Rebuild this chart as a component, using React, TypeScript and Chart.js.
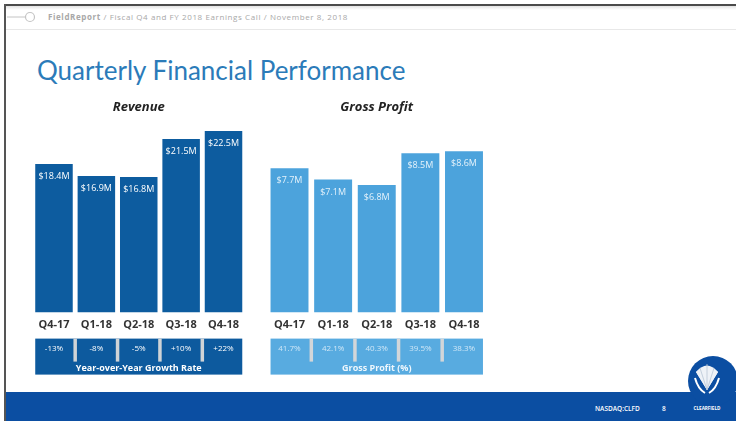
import React, { useEffect, useRef } from 'react';
import { Chart, registerables } from 'chart.js';

Chart.register(...registerables);

const quarters = ['Q4-17', 'Q1-18', 'Q2-18', 'Q3-18', 'Q4-18'];
const revenue = [18.4, 16.9, 16.8, 21.5, 22.5];
const yoyGrowth = ['-13%', '-8%', '-5%', '+10%', '+22%'];
const grossProfit = [7.7, 7.1, 6.8, 8.5, 8.6];
const grossMargin = ['41.7%', '42.1%', '40.3%', '39.5%', '38.3%'];

const FONT = '"Open Sans", "DejaVu Sans", sans-serif';

const slidePlugin = {
  id: 'slide',
  afterDatasetsDraw(chart: any, _args: any, opts: any) {
    const ctx = chart.ctx;
    const meta = chart.getDatasetMeta(0);
    const bars = meta.data;
    const values = chart.data.datasets[0].data as number[];
    ctx.save();
    ctx.textAlign = 'center';
    ctx.textBaseline = 'middle';
    // value labels inside bar tops
    ctx.fillStyle = opts.labelColor;
    ctx.font = `9px ${FONT}`;
    bars.forEach((bar: any, i: number) => {
      ctx.fillText(`$${values[i].toFixed(1)}M`, bar.x, bar.y + 12.5);
    });
    // table below axis
    const first = bars[0];
    const last = bars[bars.length - 1];
    const left = first.x - first.width / 2;
    const right = last.x + last.width / 2;
    const top = chart.chartArea.bottom + 26;
    const h = 36;
    ctx.fillStyle = opts.fill;
    ctx.fillRect(left, top, right - left, h);
    ctx.fillStyle = opts.sepColor;
    for (let i = 0; i < bars.length - 1; i++) {
      const mid = (bars[i].x + bars[i + 1].x) / 2;
      ctx.fillRect(mid - 1.75, top, 3.5, 23);
    }
    ctx.fillStyle = opts.cellColor;
    ctx.font = `8px ${FONT}`;
    bars.forEach((bar: any, i: number) => {
      ctx.fillText(opts.cells[i], bar.x, top + 10);
    });
    ctx.fillStyle = opts.captionColor;
    ctx.font = `bold 9px ${FONT}`;
    ctx.fillText(opts.caption, (left + right) / 2, top + 29.5);
    ctx.restore();
  },
};

function makeConfig(
  title: string,
  data: number[],
  color: string,
  max: number,
  pad: { left: number; right: number },
  barPct: number,
  slide: any
): any {
  return {
    type: 'bar',
    data: {
      labels: quarters,
      datasets: [
        {
          data,
          backgroundColor: color,
          barPercentage: barPct,
          categoryPercentage: 1,
        },
      ],
    },
    options: {
      responsive: false,
      animation: false,
      layout: { padding: { left: pad.left, right: pad.right, top: 4, bottom: 48.4 } },
      plugins: {
        legend: { display: false },
        tooltip: { enabled: false },
        title: {
          display: true,
          text: title,
          color: '#222',
          font: { family: FONT, size: 13, weight: 'bold', style: 'italic' },
          padding: { top: 0, bottom: 5.4 },
        },
        slide,
      },
      scales: {
        x: {
          grid: { display: false, drawTicks: false },
          border: { display: false },
          ticks: {
            color: '#333',
            font: { family: FONT, size: 11, weight: 'bold' },
            padding: 5.4,
            maxRotation: 0,
            autoSkip: false,
          },
        },
        y: { display: false, min: 0, max },
      },
    },
    plugins: [slidePlugin],
  };
}

function BarPanel(props: { config: any; left: number; top: number; width: number; height: number }) {
  const ref = useRef<HTMLCanvasElement>(null);
  useEffect(() => {
    const chart = new Chart(ref.current as HTMLCanvasElement, props.config);
    return () => chart.destroy();
  }, []);
  return (
    <canvas
      ref={ref}
      width={props.width}
      height={props.height}
      style={{ position: 'absolute', left: props.left, top: props.top, width: props.width, height: props.height }}
    />
  );
}

export default function App() {
  const revConfig = makeConfig('Revenue', revenue, '#0D5C9F', 23.85, { left: 32.8, right: 15.3 }, 0.885, {
    labelColor: '#ffffff',
    fill: '#0D5A9E',
    sepColor: '#cfd3d6',
    cellColor: '#ffffff',
    captionColor: '#ffffff',
    cells: yoyGrowth,
    caption: 'Year-over-Year Growth Rate',
  });
  const gpConfig = makeConfig('Gross Profit', grossProfit, '#4CA3DC', 10.27, { left: 17.7, right: 24.2 }, 0.87, {
    labelColor: '#e4f2fb',
    fill: '#58ABE0',
    sepColor: '#d2d6d9',
    cellColor: '#cfe7f7',
    captionColor: '#eef7fd',
    cells: grossMargin,
    caption: 'Gross Profit (%)',
  });

  return (
    <div
      style={{
        position: 'absolute',
        left: 0,
        top: 0,
        width: 736,
        height: 421,
        overflow: 'hidden',
        background: '#ffffff',
        fontFamily: FONT,
      }}
    >
      {/* frame */}
      <div style={{ position: 'absolute', left: 4, top: 4, width: 732, height: 2, background: '#4a4a4a' }} />
      <div style={{ position: 'absolute', left: 6, top: 6, width: 730, height: 4, background: 'linear-gradient(#e2e2e2, #ffffff)' }} />
      <div style={{ position: 'absolute', left: 4, top: 4, width: 2, height: 417, background: '#555' }} />
      <div style={{ position: 'absolute', left: 6, top: 29, width: 730, height: 1, background: '#e8e8e8' }} />
      {/* header */}
      <svg style={{ position: 'absolute', left: 0, top: 0 }} width={60} height={30}>
        <line x1={7} y1={17} x2={25.5} y2={17} stroke="#c4c4c4" strokeWidth={1} />
        <circle cx={30} cy={17} r={4.5} fill="none" stroke="#c4c4c4" strokeWidth={1.2} />
      </svg>
      <div
        style={{
          position: 'absolute',
          left: 48,
          top: 11,
          fontSize: 8,
          lineHeight: '12px',
          color: '#a8a8a8',
          letterSpacing: 0.6,
          whiteSpace: 'nowrap',
        }}
      >
        <span style={{ fontWeight: 700 }}>FieldReport</span> / Fiscal Q4 and FY 2018 Earnings Call / November 8, 2018
      </div>
      {/* title */}
      <div
        style={{
          position: 'absolute',
          left: 37,
          top: 55,
          fontFamily: 'Lato, "Open Sans", sans-serif',
          fontSize: 26,
          lineHeight: '30px',
          color: '#2B7BB9',
          whiteSpace: 'nowrap',
        }}
      >
        Quarterly Financial Performance
      </div>
      {/* charts */}
      <BarPanel config={revConfig} left={0} top={95} width={260} height={290} />
      <BarPanel config={gpConfig} left={250} top={95} width={260} height={290} />
      {/* footer */}
      <div style={{ position: 'absolute', left: 6, top: 392, width: 730, height: 29, background: '#0B4EA2' }} />
      <svg style={{ position: 'absolute', left: 680, top: 345 }} width={56} height={76}>
        <circle cx={33} cy={36} r={25} fill="#0B4EA2" />
        <path d="M27 45 L16 27 A15 15 0 0 1 38 27 Z" fill="#ffffff" />
        <path d="M27 45 L16 27 Q27 14 38 27 Z" fill="#eef2f7" />
        <path d="M27 45 L20 23 M27 45 L27 19 M27 45 L34 23" stroke="#b9c6d6" strokeWidth={0.8} />
        <path d="M15 33 Q18 44 25 48 M39 33 Q36 44 29 48" stroke="#ffffff" strokeWidth={2} fill="none" />
        <text x={27} y={65} textAnchor="middle" fontSize={4.6} fontWeight={700} fill="#ffffff" fontFamily={FONT}>
          CLEARFIELD
        </text>
      </svg>
      <div
        style={{
          position: 'absolute',
          left: 595,
          top: 404,
          fontSize: 6.5,
          lineHeight: '10px',
          color: '#ffffff',
          fontWeight: 600,
          whiteSpace: 'nowrap',
        }}
      >
        NASDAQ:CLFD
      </div>
      <div
        style={{
          position: 'absolute',
          left: 662,
          top: 404,
          fontSize: 6.5,
          lineHeight: '10px',
          color: '#ffffff',
          fontWeight: 600,
        }}
      >
        8
      </div>
    </div>
  );
}
